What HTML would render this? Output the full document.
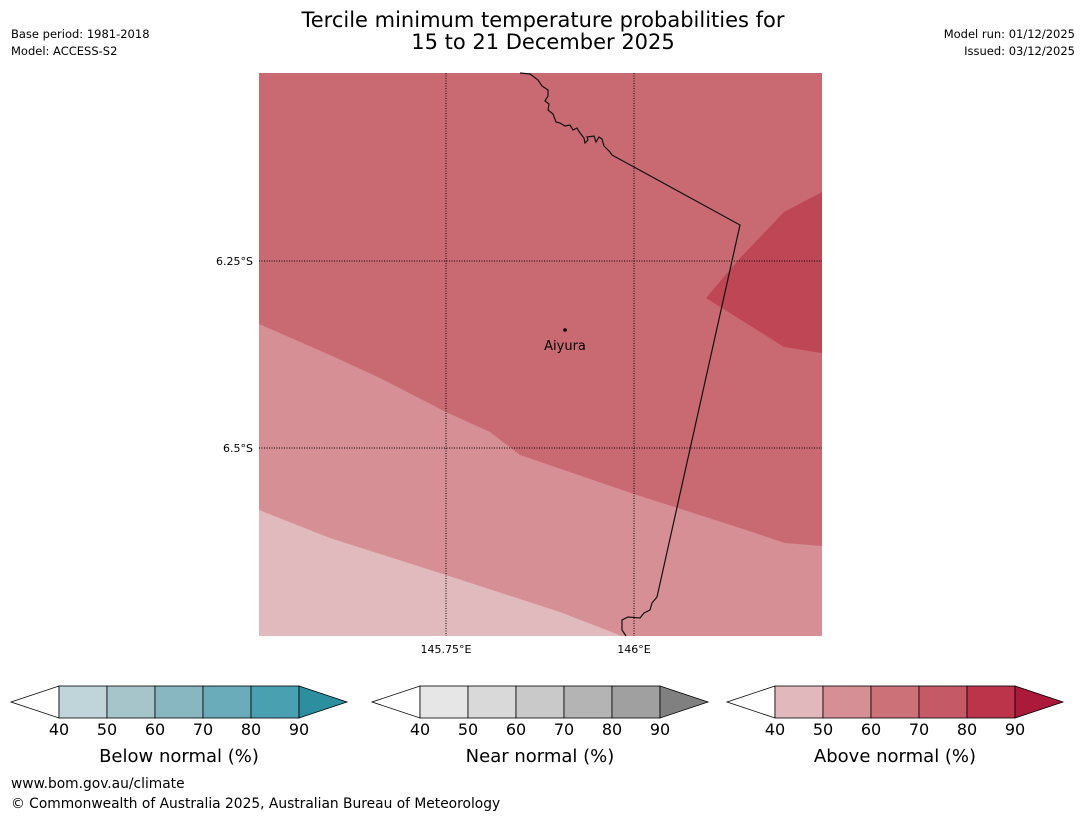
<!DOCTYPE html>
<html><head><meta charset="utf-8"><style>
body{margin:0;background:#fff;font-family:"Liberation Sans","DejaVu Sans",sans-serif;}
svg{display:block}
</style></head><body>
<svg width="1085" height="816" viewBox="0 0 1085 816" font-family="DejaVu Sans, Liberation Sans, sans-serif">
<rect width="1085" height="816" fill="#fff"/>
<text x="543" y="27" font-size="21" text-anchor="middle">Tercile minimum temperature probabilities for</text>
<text x="543" y="49" font-size="21" text-anchor="middle">15 to 21 December 2025</text>
<text x="11" y="38" font-size="11.5">Base period: 1981-2018</text>
<text x="11" y="55" font-size="11.5">Model: ACCESS-S2</text>
<text x="1075" y="38" font-size="11.5" text-anchor="end">Model run: 01/12/2025</text>
<text x="1075" y="55" font-size="11.5" text-anchor="end">Issued: 03/12/2025</text>

<g>
<rect x="259" y="73" width="563" height="563" fill="#c96a73"/>
<polygon points="822,192 784,212 740,258 706,298 784,347 822,353" fill="#bf4655"/>
<polygon points="259,324 330,355 380,378 446,412 490,432 520,455 634,494 740,528 785,543 822,546 822,636 259,636" fill="#d58f95"/>
<polygon points="259,510 330,538 446,575 560,612 622,636 259,636" fill="#e1babd"/>
<g stroke="#000" stroke-width="1" stroke-dasharray="1,1.5">
<line x1="446" y1="73" x2="446" y2="636"/><line x1="634" y1="73" x2="634" y2="636"/>
<line x1="259" y1="261" x2="822" y2="261"/><line x1="259" y1="448" x2="822" y2="448"/>
</g>
<polyline fill="none" stroke="#111" stroke-width="1.2" points="520,73 530,74 538,80 542,86 548,90 548,96 545,101 549,104 548,110 553,114 556,122 560,123 565,126 570,125 573,130 577,128 580,133 584,138 585,143 588,140 587,137 594,136 596,142 599,137 602,139 604,146 608,150 610,152 612,155 740,225 657,597 652,603 650,610 644,613 640,618 628,617 622,620 622,630 626,636"/>
<circle cx="565" cy="330" r="1.8" fill="#000"/>
<text x="565" y="350" font-size="13" text-anchor="middle">Aiyura</text>
</g>
<g font-size="11">
<text x="253" y="265" text-anchor="end">6.25°S</text>
<text x="253" y="452" text-anchor="end">6.5°S</text>
<text x="446" y="653" text-anchor="middle">145.75°E</text>
<text x="634" y="653" text-anchor="middle">146°E</text>
</g>
<g id="cbars"></g>
<text x="11" y="788" font-size="13.8">www.bom.gov.au/climate</text>
<text x="11" y="808" font-size="13.8">© Commonwealth of Australia 2025, Australian Bureau of Meteorology</text>
</svg>
<script>
const ticks=[40,50,60,70,80,90];
const bluePal=["#bfd5da","#a6c5ca","#88b7c2","#6aacb9","#49a0b0","#2d8e9f"];
const grayPal=["#e6e6e6","#d9d9d9","#c9c9c9","#b4b4b4","#a0a0a0","#808080"];
const redPal=["#e1b9bd","#d58f95","#cc7178","#c55a66","#bb3449","#ab1a3a"];
const titles=["Below normal (%)","Near normal (%)","Above normal (%)"];
const bars=[{x0:59,pal:bluePal},{x0:420,pal:grayPal},{x0:775,pal:redPal}];
const NS="http://www.w3.org/2000/svg";
const cbG=document.getElementById('cbars');
const BW=240,BTOP=686,BH=32;
function sx(x0,v){return x0+(v-ticks[0])/(ticks[ticks.length-1]-ticks[0])*BW;}
bars.forEach((b,i)=>{
 const grp=document.createElementNS(NS,'g');
 
 
 const l=document.createElementNS(NS,'polygon');
 l.setAttribute('points',`${b.x0-48},${BTOP+BH/2} ${b.x0},${BTOP} ${b.x0},${BTOP+BH}`);
 l.setAttribute('fill','#fff');l.setAttribute('stroke','#000');l.setAttribute('stroke-width','0.8');
 
 
 grp.appendChild(l);
 for(let k=0;k<ticks.length-1;k++){
  const r=document.createElementNS(NS,'rect');
  const x1=sx(b.x0,ticks[k]),x2=sx(b.x0,ticks[k+1]);
  r.setAttribute('x',x1);r.setAttribute('y',BTOP);r.setAttribute('width',x2-x1);r.setAttribute('height',BH);
  r.setAttribute('fill',b.pal[k]);r.setAttribute('stroke','#000');r.setAttribute('stroke-width','0.8');
  
  
  grp.appendChild(r);
 }
 const xe=sx(b.x0,ticks[ticks.length-1]);
 const rr=document.createElementNS(NS,'polygon');
 rr.setAttribute('points',`${xe},${BTOP} ${xe+48},${BTOP+BH/2} ${xe},${BTOP+BH}`);
 rr.setAttribute('fill',b.pal[5]);rr.setAttribute('stroke','#000');rr.setAttribute('stroke-width','0.8');
 
 
 grp.appendChild(rr);
 ticks.forEach(t=>{
  const tx=document.createElementNS(NS,'text');
  tx.setAttribute('x',sx(b.x0,t));tx.setAttribute('y',735);tx.setAttribute('font-size','16');tx.setAttribute('text-anchor','middle');
  tx.textContent=t;
  
  
  grp.appendChild(tx);
 });
 const tt=document.createElementNS(NS,'text');
 tt.setAttribute('x',b.x0+BW/2);tt.setAttribute('y',762);tt.setAttribute('font-size','18');tt.setAttribute('text-anchor','middle');
 tt.textContent=titles[i];
 
 
 grp.appendChild(tt);
 cbG.appendChild(grp);
});
</script>
</body></html>
